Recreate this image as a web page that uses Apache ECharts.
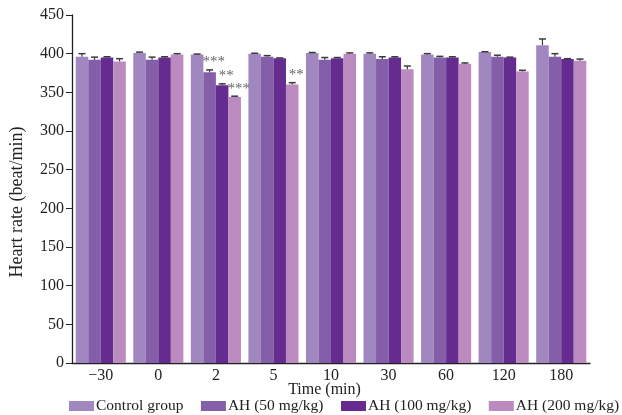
<!DOCTYPE html>
<html>
<head>
<meta charset="utf-8">
<script src="https://cdn.jsdelivr.net/npm/echarts@6/dist/echarts.min.js"></script>
<style>
  html, body { margin: 0; padding: 0; background: #fff; }
  #chart { width: 622px; height: 415px; }
</style>
</head>
<body>
<div id="chart"></div>
<script>
// Time points (min) after administration
const timePoints = ['\u221230', '0', '2', '5', '10', '30', '60', '120', '180'];

// Group names
const groupNames = ['Control group', 'AH (50 mg/kg)', 'AH (100 mg/kg)', 'AH (200 mg/kg)'];

// Mean heart rate (beat/min)
const controlMean = [396, 401, 399, 400, 401, 400, 399, 402, 411];
const ah50Mean    = [392, 392, 376, 396, 392, 393, 395, 396, 396];
const ah100Mean   = [395, 395, 359, 394, 394, 395, 395, 395, 393];
const ah200Mean   = [390, 399, 344, 360, 400, 380, 387, 377, 391];

// Error (SEM)
const controlErr = [4, 1, 0.5, 0.5, 0.5, 1, 1, 0.5, 8];
const ah50Err    = [3.5, 3.5, 3, 1.5, 3, 3, 1.5, 2, 4];
const ah100Err   = [1, 1, 2, 0.5, 1, 1, 1, 0.5, 0.5];
const ah200Err   = [3.5, 1, 1, 2.5, 1, 4, 1, 1.5, 2];

// Significance marks vs. control
const controlSig = ['', '', '', '', '', '', '', '', ''];
const ah50Sig    = ['', '', '***', '', '', '', '', '', ''];
const ah100Sig   = ['', '', '**', '', '', '', '', '', ''];
const ah200Sig   = ['', '', '***', '**', '', '', '', '', ''];

// Y axis ticks
const yMin = 0, yMax = 450, yStep = 50;

const means = [controlMean, ah50Mean, ah100Mean, ah200Mean];
const errs = [controlErr, ah50Err, ah100Err, ah200Err];
const sigs = [controlSig, ah50Sig, ah100Sig, ah200Sig];
const colors = ['#a087bf', '#845ea8', '#652b8f', '#bb8abe'];

const FONT = '"Liberation Serif", "DejaVu Serif", serif';
const CAT_GAP = 0.13;           // fraction of category left empty
const nBars = groupNames.length;

const chart = echarts.init(document.getElementById('chart'), null, { renderer: 'canvas' });

const series = [];
groupNames.forEach((name, i) => {
  series.push({
    name: name,
    type: 'bar',
    data: means[i],
    barGap: '0%',
    barCategoryGap: (CAT_GAP * 100) + '%',
    itemStyle: { color: colors[i] },
    emphasis: { disabled: true },
    z: 2
  });
});

// Error bars and significance marks, one custom series per group
groupNames.forEach((name, i) => {
  series.push({
    type: 'custom',
    name: name + ' err',
    data: means[i].map((m, k) => [k, m, errs[i][k]]),
    z: 3,
    silent: true,
    renderItem: function (params, api) {
      const k = api.value(0);
      const m = api.value(1);
      const e = api.value(2);
      const s = sigs[i][k];
      const cw = api.size([1, 0])[0];
      const bw = cw * (1 - CAT_GAP) / nBars;
      const base = api.coord([k, m]);
      const cx = base[0] - cw * (1 - CAT_GAP) / 2 + bw * (i + 0.5);
      const yTop = api.coord([k, m + e])[1];
      const yBot = base[1];
      const cap = 3.5;
      const children = [
        { type: 'line', shape: { x1: cx, y1: yBot, x2: cx, y2: yTop },
          style: { stroke: '#3a3a3a', lineWidth: 1.2 } },
        { type: 'line', shape: { x1: cx - cap, y1: yTop, x2: cx + cap, y2: yTop },
          style: { stroke: '#3a3a3a', lineWidth: 1.5 } }
      ];
      if (s) {
        children.push({
          type: 'text',
          style: {
            text: s, x: cx + 4, y: yTop,
            align: 'center', verticalAlign: 'bottom',
            fill: '#666', font: '15px ' + FONT
          }
        });
      }
      return { type: 'group', children: children };
    }
  });
});

chart.setOption({
  animation: false,
  backgroundColor: '#fff',
  grid: { left: 70, right: 32, top: 15, bottom: 52, containLabel: false },
  legend: {
    data: groupNames,
    left: 69,
    top: 398,
    width: 553,
    padding: 0,
    itemWidth: 25,
    itemHeight: 10,
    itemGap: 17.5,
    icon: 'rect',
    textStyle: { fontFamily: FONT, fontSize: 15.5, color: '#222', padding: [0, 0, 0, -3] }
  },
  xAxis: {
    type: 'category',
    data: timePoints,
    name: 'Time (min)',
    nameLocation: 'middle',
    nameGap: 19,
    nameMoveOverlap: false,
    nameTextStyle: { fontFamily: FONT, fontSize: 16, color: '#222', padding: [0, 13, 0, 0] },
    axisLine: { lineStyle: { color: '#222', width: 1.3 } },
    axisTick: { show: false },
    axisLabel: { fontFamily: FONT, fontSize: 16, color: '#222', margin: 5 }
  },
  yAxis: {
    type: 'value',
    min: yMin,
    max: yMax,
    interval: yStep,
    name: 'Heart rate (beat/min)',
    nameLocation: 'middle',
    nameGap: 46,
    nameRotate: 90,
    nameMoveOverlap: false,
    nameTextStyle: { fontFamily: FONT, fontSize: 18, color: '#222', padding: [0, 26, 0, 0] },
    axisLine: { show: true, lineStyle: { color: '#222', width: 1.3 } },
    axisTick: { show: true, length: 6, lineStyle: { color: '#222' } },
    splitLine: { show: false },
    axisLabel: { fontFamily: FONT, fontSize: 16, color: '#222', margin: 8 }
  },
  series: series
});
</script>
</body>
</html>
